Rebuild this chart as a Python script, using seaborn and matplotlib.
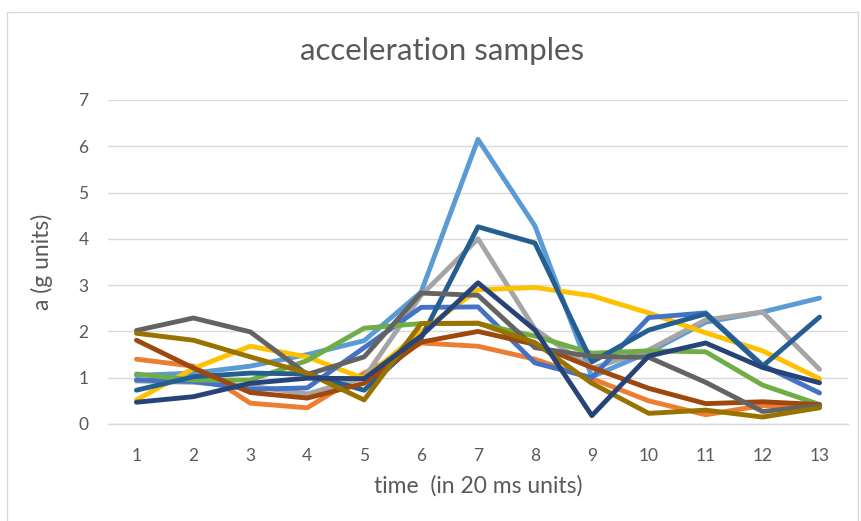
import matplotlib
matplotlib.use("Agg")
import matplotlib.pyplot as plt
import seaborn as sns
import pandas as pd
from matplotlib.patches import Rectangle

time = list(range(1, 14))

s01 = [1.05, 1.10, 1.25, 1.50, 1.80, 2.85, 6.15, 4.28, 1.02, 1.55, 2.20, 2.42, 2.72]
s02 = [1.40, 1.25, 0.45, 0.35, 1.10, 1.75, 1.68, 1.40, 0.98, 0.50, 0.20, 0.40, 0.38]
s03 = [0.93, 0.90, 0.82, 0.65, 1.00, 2.78, 4.00, 2.05, 1.20, 1.60, 2.25, 2.42, 1.18]
s04 = [0.52, 1.20, 1.68, 1.45, 0.98, 2.00, 2.90, 2.95, 2.77, 2.40, 1.97, 1.58, 0.98]
s05 = [0.95, 0.92, 0.75, 0.78, 1.65, 2.52, 2.53, 1.32, 1.00, 2.30, 2.40, 1.27, 0.67]
s06 = [1.08, 0.95, 0.95, 1.37, 2.07, 2.17, 2.17, 1.90, 1.53, 1.58, 1.56, 0.84, 0.42]
s07 = [0.73, 1.02, 1.10, 1.08, 0.73, 1.85, 4.26, 3.91, 1.34, 2.03, 2.38, 1.25, 2.31]
s08 = [1.81, 1.21, 0.68, 0.56, 0.88, 1.77, 2.00, 1.72, 1.22, 0.77, 0.44, 0.48, 0.42]
s09 = [2.02, 2.29, 1.99, 1.07, 1.45, 2.83, 2.78, 1.65, 1.46, 1.44, 0.90, 0.27, 0.40]
s10 = [1.96, 1.81, 1.45, 1.10, 0.52, 2.17, 2.18, 1.76, 0.88, 0.23, 0.30, 0.15, 0.35]
s11 = [0.47, 0.59, 0.88, 0.99, 0.98, 1.90, 3.05, 2.03, 0.18, 1.47, 1.75, 1.22, 0.89]

series = [s01, s02, s03, s04, s05, s06, s07, s08, s09, s10, s11]
names = [f"Series{i}" for i in range(1, 12)]
colors = ["#5B9BD5", "#ED7D31", "#A5A5A5", "#FFC000", "#4472C4", "#70AD47",
          "#255E91", "#9E480E", "#636363", "#997300", "#264478"]

rows = []
for n, vals in zip(names, series):
    for t, v in zip(time, vals):
        rows.append({"time": t, "a": v, "series": n})
df = pd.DataFrame(rows)

sns.set_theme(style="white")
plt.rcParams['font.family'] = ['Lato', 'DejaVu Sans']

fig = plt.figure(figsize=(8.61, 5.21), dpi=100)
ax = fig.add_axes([108/861, (521-424)/521, (848-108)/861, (424-100)/521])

sns.lineplot(data=df, x="time", y="a", hue="series", palette=colors,
             hue_order=names, linewidth=3.5, legend=False, ax=ax,
             solid_capstyle="round", solid_joinstyle="round")

ax.set_xlim(0.5, 13.5)
ax.set_ylim(0, 7)
ax.set_xticks(time)
ax.set_yticks(range(0, 8))
ax.yaxis.grid(True, color="#D9D9D9", linewidth=1.0)
ax.set_axisbelow(True)
for sp in ["top", "right", "left"]:
    ax.spines[sp].set_visible(False)
ax.spines["bottom"].set_color("#D9D9D9")
ax.spines["bottom"].set_linewidth(1.0)
ax.tick_params(axis="both", length=0, labelsize=12.5, colors="#595959")
ax.tick_params(axis="x", pad=17)
ax.tick_params(axis="y", pad=14)

ax.set_xlabel("time  (in 20 ms units)", fontsize=16.5, color="#595959", labelpad=8)
ax.set_ylabel("a (g units)", fontsize=16.5, color="#595959", labelpad=18)

fig.text(442/861, 1 - 51/521, "acceleration samples", ha="center", va="center",
         fontsize=22.5, color="#595959")

fig.patches.append(Rectangle((7/861, -0.01), (858-7)/861, (521-12)/521 + 0.01,
                             transform=fig.transFigure, fill=False,
                             edgecolor="#D9D9D9", linewidth=1.0))

fig.savefig("out.png", dpi=100)
